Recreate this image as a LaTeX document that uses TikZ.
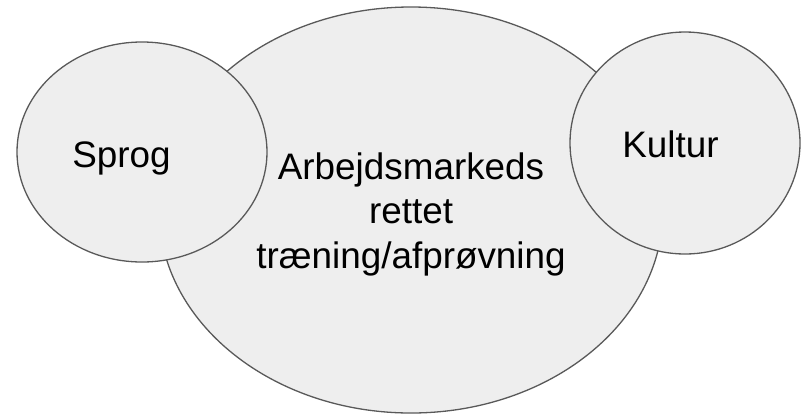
\documentclass[tikz,border=0pt]{standalone}
\usepackage{fontspec}
\setmainfont{Liberation Sans}
\usetikzlibrary{shapes.geometric}
\definecolor{blobfill}{HTML}{EEEEEE}
\definecolor{blobline}{HTML}{595959}
\tikzset{
  blob/.style={ellipse, draw=blobline, fill=blobfill, line width=1.3bp, inner sep=0pt},
  lbl/.style={font=\fontsize{37}{44.5}\selectfont, text=black, inner sep=0pt, align=center, anchor=base}
}
\begin{document}
\begin{tikzpicture}[x=1bp,y=-1bp]
\useasboundingbox (0,0) rectangle (801,414);
\node[blob, minimum width=504bp, minimum height=406bp] (main) at (411,210) {};
\node[blob, minimum width=250bp, minimum height=220bp] (sprog) at (142,152) {};
\node[blob, minimum width=230bp, minimum height=222bp] (kultur) at (685,143) {};
\node[lbl] (tmain) at (411,268) {Arbejdsmarkeds\\rettet\\træning/afprøvning};
\node[lbl] (tsprog) at (121.5,167) {Sprog};
\node[lbl] (tkultur) at (670.5,157) {Kultur};
\end{tikzpicture}
\end{document}
